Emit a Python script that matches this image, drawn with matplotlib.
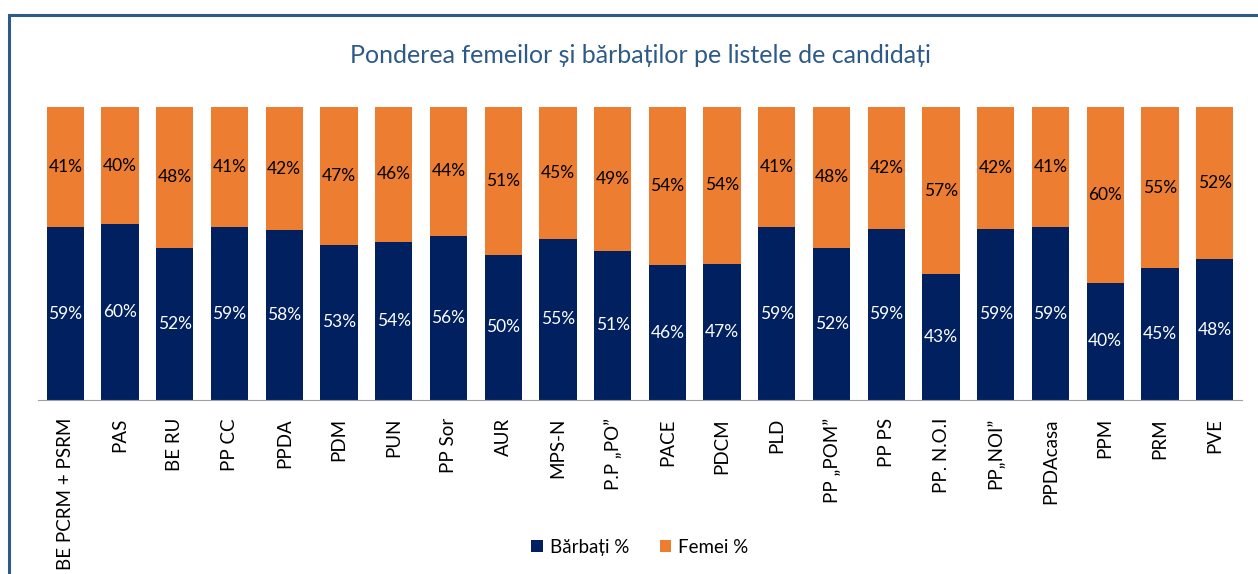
import numpy as np
import matplotlib.pyplot as plt
from matplotlib.patches import Rectangle

plt.rcParams['font.family'] = ['Lato', 'DejaVu Sans']

# party lists and shares as printed on the chart
parties = ['BE PCRM + PSRM', 'PAS', 'BE RU', 'PP CC', 'PPDA', 'PDM', 'PUN', 'PP Sor',
           'AUR', 'MPS-N', 'P.P „PO”', 'PACE', 'PDCM', 'PLD', 'PP „POM”', 'PP PS',
           'PP. N.O.I', 'PP„NOI”', 'PPDAcasa', 'PPM', 'PRM', 'PVE']
barbati = [59, 60, 52, 59, 58, 53, 54, 56, 50, 55, 51, 46, 47, 59, 52, 59, 43, 59, 59, 40, 45, 48]
femei = [41, 40, 48, 41, 42, 47, 46, 44, 51, 45, 49, 54, 54, 41, 48, 42, 57, 42, 41, 60, 55, 52]

navy = '#002060'
orange = '#ED7D31'

fig = plt.figure(figsize=(12.58, 5.74), dpi=100)
ax = fig.add_axes([0.0302, 0.3031, 0.9571, 0.5105])

x = np.arange(len(parties))
tot = np.array(barbati) + np.array(femei)
m = np.array(barbati) / tot * 100
f = np.array(femei) / tot * 100

ax.bar(x, m, width=0.68, color=navy, label='Bărbați %')
ax.bar(x, f, width=0.68, bottom=m, color=orange, label='Femei %')

for i in range(len(parties)):
    ax.text(x[i], m[i] / 2, '{}%'.format(barbati[i]), ha='center', va='center',
            color='white', fontsize=12.5)
    ax.text(x[i], m[i] + f[i] / 2, '{}%'.format(femei[i]), ha='center', va='center',
            color='black', fontsize=12.5)

ax.set_xlim(-0.5, len(parties) - 0.5)
ax.set_ylim(0, 100)
ax.set_xticks(x)
ax.set_xticklabels(parties, rotation=90, fontsize=13.5)
ax.tick_params(axis='x', length=0, pad=13)
ax.set_yticks([])
for s in ['top', 'right', 'left']:
    ax.spines[s].set_visible(False)
ax.spines['bottom'].set_color('#A0A0A0')

fig.text(0.5087, 0.904, 'Ponderea femeilor și bărbaților pe listele de candidați',
         ha='center', va='center', fontsize=18, color='#2E5A87')

fig.legend(loc='center', bbox_to_anchor=(0.5087, 0.047), ncol=2, frameon=False,
           fontsize=13.5, handlelength=0.6, handleheight=0.6, columnspacing=1.6,
           handletextpad=0.4)

# outer frame of the chart object
fig.patches.append(Rectangle((0.0075, -0.05), 1.1, 1.024, transform=fig.transFigure,
                             fill=False, edgecolor='#2E5A87', linewidth=2.2))

fig.savefig('out.png', dpi=100)
